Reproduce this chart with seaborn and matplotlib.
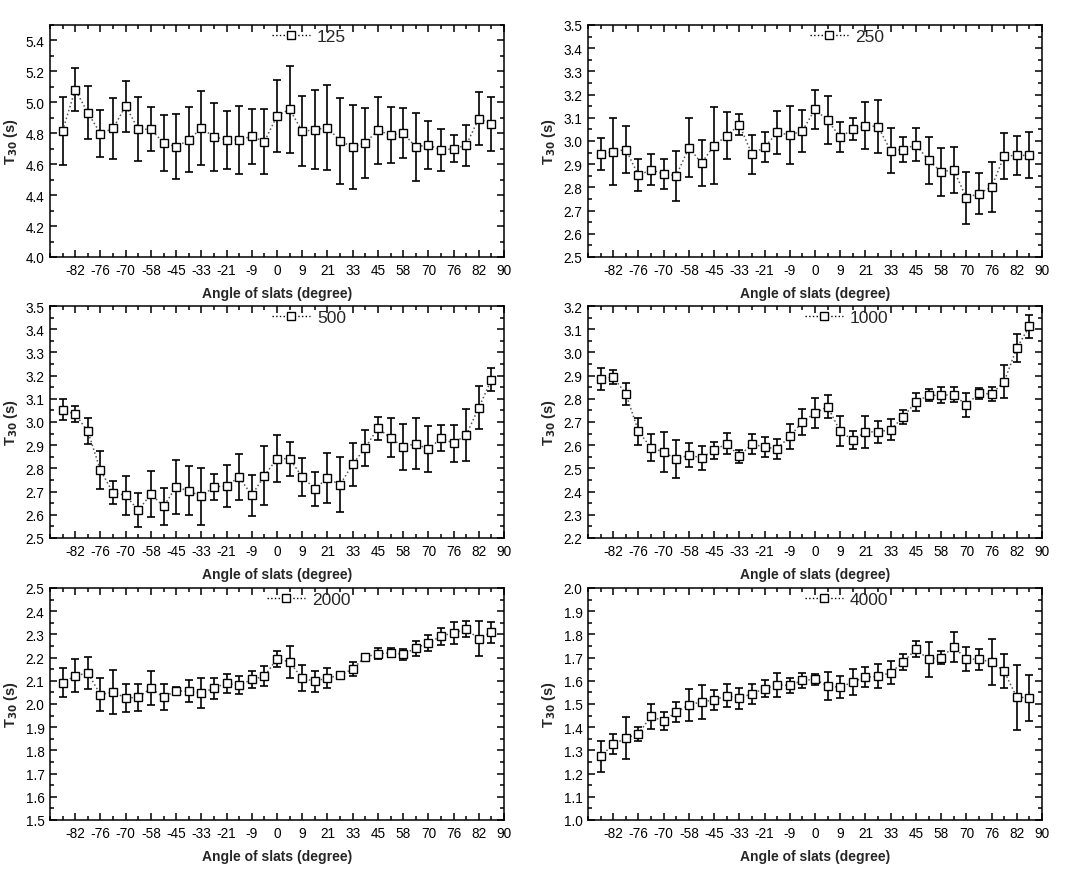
import numpy as np
import pandas as pd
import matplotlib
matplotlib.use("Agg")
import matplotlib.pyplot as plt
from matplotlib.lines import Line2D
from matplotlib.ticker import MultipleLocator
import seaborn as sns

# ======================================
# DATA
angle_labels = ["-82", "-76", "-70", "-58", "-45", "-33", "-21", "-9", "0",
                "9", "21", "33", "45", "58", "70", "76", "82", "90"]

t30_125 = [4.817, 5.082, 4.933, 4.798, 4.832, 4.976, 4.826, 4.826, 4.738, 4.712,
           4.757, 4.832, 4.778, 4.757, 4.757, 4.780, 4.746, 4.912, 4.955, 4.813,
           4.822, 4.837, 4.750, 4.712, 4.738, 4.819, 4.789, 4.802, 4.712, 4.725,
           4.692, 4.699, 4.723, 4.895, 4.860]
err_125 = [0.22, 0.14, 0.17, 0.15, 0.197, 0.165, 0.206, 0.142, 0.18, 0.21,
           0.21, 0.24, 0.22, 0.19, 0.22, 0.18, 0.21, 0.23, 0.28, 0.225,
           0.255, 0.275, 0.277, 0.27, 0.226, 0.216, 0.18, 0.16, 0.22, 0.157,
           0.135, 0.087, 0.132, 0.172, 0.173]

t30_250 = [2.944, 2.954, 2.963, 2.852, 2.876, 2.858, 2.851, 2.971, 2.905, 2.980,
           3.023, 3.070, 2.943, 2.973, 3.037, 3.026, 3.043, 3.137, 3.089, 3.017,
           3.050, 3.066, 3.062, 2.958, 2.963, 2.984, 2.917, 2.868, 2.875, 2.756,
           2.773, 2.802, 2.935, 2.938, 2.938]
err_250 = [0.067, 0.145, 0.10, 0.069, 0.067, 0.065, 0.108, 0.127, 0.101, 0.166,
           0.101, 0.045, 0.084, 0.065, 0.094, 0.127, 0.09, 0.084, 0.103, 0.065,
           0.047, 0.10, 0.114, 0.096, 0.054, 0.071, 0.101, 0.103, 0.099, 0.112,
           0.088, 0.108, 0.099, 0.085, 0.099]

t30_500 = [3.052, 3.034, 2.960, 2.792, 2.695, 2.684, 2.619, 2.690, 2.636, 2.720,
           2.703, 2.680, 2.720, 2.724, 2.763, 2.684, 2.769, 2.842, 2.842, 2.763,
           2.713, 2.757, 2.730, 2.818, 2.889, 2.973, 2.932, 2.892, 2.907, 2.882,
           2.930, 2.909, 2.944, 3.062, 3.182]
err_500 = [0.045, 0.035, 0.056, 0.082, 0.05, 0.084, 0.073, 0.10, 0.08, 0.118,
           0.106, 0.123, 0.058, 0.09, 0.10, 0.088, 0.127, 0.10, 0.073, 0.08,
           0.073, 0.108, 0.12, 0.093, 0.078, 0.05, 0.084, 0.099, 0.11, 0.099,
           0.056, 0.08, 0.11, 0.092, 0.05]

t30_1000 = [2.887, 2.893, 2.822, 2.660, 2.589, 2.571, 2.539, 2.558, 2.545, 2.578,
            2.607, 2.553, 2.605, 2.592, 2.584, 2.638, 2.700, 2.739, 2.766, 2.660,
            2.622, 2.657, 2.658, 2.666, 2.723, 2.786, 2.815, 2.815, 2.818, 2.773,
            2.824, 2.821, 2.874, 3.019, 3.112]
err_1000 = [0.047, 0.03, 0.047, 0.058, 0.058, 0.088, 0.082, 0.052, 0.052, 0.037,
            0.045, 0.028, 0.043, 0.043, 0.043, 0.054, 0.056, 0.065, 0.05, 0.065,
            0.04, 0.071, 0.047, 0.045, 0.03, 0.039, 0.026, 0.034, 0.032, 0.052,
            0.024, 0.032, 0.071, 0.06, 0.05]

t30_2000 = [2.092, 2.121, 2.134, 2.040, 2.052, 2.026, 2.029, 2.068, 2.029, 2.057,
            2.055, 2.047, 2.068, 2.090, 2.080, 2.106, 2.119, 2.195, 2.181, 2.111,
            2.098, 2.112, 2.124, 2.151, 2.203, 2.216, 2.221, 2.214, 2.241, 2.263,
            2.292, 2.307, 2.322, 2.282, 2.309]
err_2000 = [0.063, 0.071, 0.069, 0.071, 0.093, 0.06, 0.058, 0.073, 0.056, 0.016,
            0.047, 0.065, 0.045, 0.041, 0.039, 0.037, 0.043, 0.035, 0.067, 0.056,
            0.045, 0.043, 0.016, 0.03, 0.014, 0.024, 0.019, 0.024, 0.032, 0.034,
            0.037, 0.047, 0.034, 0.075, 0.045]

t30_4000 = [1.274, 1.326, 1.353, 1.372, 1.448, 1.425, 1.466, 1.496, 1.509, 1.517,
            1.536, 1.524, 1.545, 1.566, 1.583, 1.580, 1.602, 1.606, 1.578, 1.572,
            1.595, 1.616, 1.619, 1.635, 1.681, 1.736, 1.693, 1.700, 1.746, 1.694,
            1.693, 1.681, 1.641, 1.529, 1.527]
err_4000 = [0.067, 0.043, 0.09, 0.03, 0.054, 0.039, 0.043, 0.069, 0.075, 0.043,
            0.05, 0.047, 0.043, 0.037, 0.052, 0.034, 0.032, 0.024, 0.062, 0.047,
            0.058, 0.043, 0.052, 0.05, 0.034, 0.034, 0.075, 0.028, 0.065, 0.052,
            0.045, 0.099, 0.073, 0.14, 0.099]

bands = ["125", "250", "500", "1000", "2000", "4000"]
values = [t30_125, t30_250, t30_500, t30_1000, t30_2000, t30_4000]
errors = [err_125, err_250, err_500, err_1000, err_2000, err_4000]
y_limits = [(4.0, 5.5), (2.5, 3.5), (2.5, 3.5), (2.2, 3.2), (1.5, 2.5), (1.0, 2.0)]
y_steps = [0.2, 0.1, 0.1, 0.1, 0.1, 0.1]

# ======================================
# STYLE
sns.set_theme(style="ticks")
plt.rcParams["font.family"] = ["Liberation Sans", "DejaVu Sans"]

fig = plt.figure(figsize=(10.9, 8.79), dpi=100)

col_left = [50 / 1090, 588 / 1090]
row_bottom = [1 - 258 / 879, 1 - 539 / 879, 1 - 821 / 879]
ax_w = 454 / 1090
ax_h = 232 / 879

# ======================================
# PANELS
for i, band in enumerate(bands):
    ax = fig.add_axes([col_left[i % 2], row_bottom[i // 2], ax_w, ax_h])

    df = pd.DataFrame({
        "pos": np.arange(1, len(values[i]) + 1),
        "t30": values[i],
        "err": errors[i],
    })

    ax.errorbar(df["pos"], df["t30"], yerr=df["err"], fmt="none",
                ecolor="black", elinewidth=1.2, capsize=2.6, capthick=1.2, zorder=2)
    sns.lineplot(data=df, x="pos", y="t30", ax=ax, color="#555555",
                 linestyle=":", linewidth=1.1, marker="s", markersize=5.6,
                 markerfacecolor="white", markeredgecolor="black",
                 markeredgewidth=1.0, zorder=3)

    ax.set_xlim(0, 36)
    ax.set_xticks(np.arange(2, 37, 2))
    ax.set_xticklabels(angle_labels)
    ax.xaxis.set_minor_locator(MultipleLocator(1))

    lo, hi = y_limits[i]
    ax.set_ylim(lo, hi)
    ax.yaxis.set_major_locator(MultipleLocator(y_steps[i]))
    ax.yaxis.set_minor_locator(MultipleLocator(y_steps[i] / 2))
    ax.yaxis.set_major_formatter(plt.FormatStrFormatter("%.1f"))

    ax.tick_params(which="both", direction="in", top=True, right=True,
                   colors="black", labelsize=9.8, width=1.1)
    ax.tick_params(which="major", length=5, pad=4)
    ax.tick_params(which="minor", length=3)
    for sp in ax.spines.values():
        sp.set_linewidth(1.1)
        sp.set_color("black")

    ax.set_xlabel("Angle of slats (degree)", fontsize=10, fontweight="bold", labelpad=7)
    ax.set_ylabel(r"T$_{\mathbf{30}}$ (s)", fontsize=10.5, fontweight="bold", labelpad=4)

    handle = Line2D([], [], color="black", linestyle=":", linewidth=1.0, marker="s",
                    markersize=6, markerfacecolor="white", markeredgecolor="black")
    ax.legend([handle], [band], loc="upper center", bbox_to_anchor=(0.57, 1.015),
              frameon=False, fontsize=12.5, handlelength=2.2, handletextpad=0.4,
              borderaxespad=0)

fig.savefig("out.png", dpi=100)
